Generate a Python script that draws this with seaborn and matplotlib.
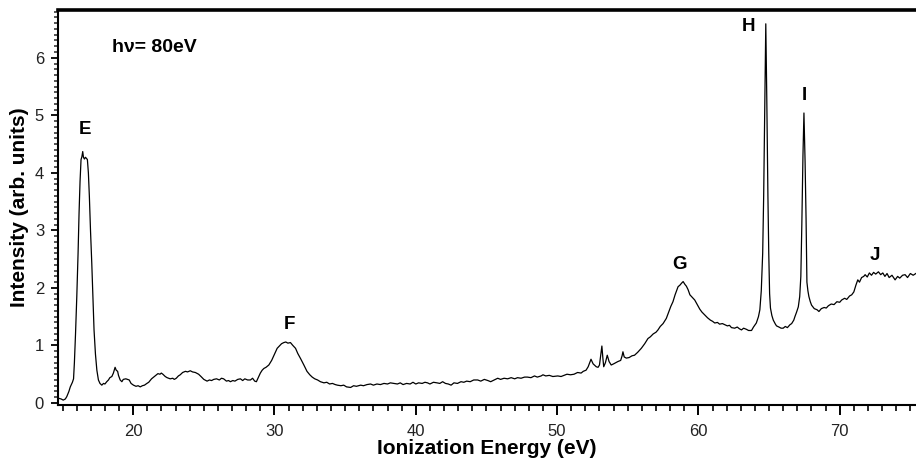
import numpy as np
import pandas as pd
import matplotlib
matplotlib.use("Agg")
import matplotlib.pyplot as plt
from matplotlib.ticker import MultipleLocator
import seaborn as sns

# ---- data ----
energy = [
    14.75, 14.9, 15.05, 15.2, 15.3, 15.45, 15.55, 15.7, 15.78, 15.84, 15.92, 16.01, 16.1, 16.17, 16.24,
    16.31, 16.37, 16.43, 16.48, 16.55, 16.62, 16.7, 16.76, 16.83, 16.9, 16.98, 17.07, 17.15, 17.23,
    17.33, 17.43, 17.54, 17.65, 17.78, 17.9, 18.0, 18.13, 18.25, 18.35, 18.49, 18.6, 18.72, 18.8,
    18.9, 18.96, 19.08, 19.2, 19.3, 19.48, 19.6, 19.72, 19.85, 20.02, 20.2, 20.35, 20.5, 20.65, 20.8,
    20.97, 21.1, 21.3, 21.45, 21.56, 21.75, 21.9, 21.99, 22.1, 22.27, 22.4, 22.62, 22.8, 22.91, 23.05,
    23.2, 23.33, 23.5, 23.7, 23.85, 24.04, 24.2, 24.4, 24.63, 24.8, 25.0, 25.23, 25.4, 25.55, 25.7,
    25.9, 26.1, 26.25, 26.4, 26.6, 26.75, 26.88, 27.05, 27.2, 27.4, 27.59, 27.75, 27.9, 28.1, 28.3,
    28.45, 28.6, 28.72, 28.85, 29.0, 29.13, 29.25, 29.4, 29.6, 29.8, 30.0, 30.19, 30.35, 30.5, 30.66,
    30.8, 30.95, 31.13, 31.3, 31.49, 31.65, 31.85, 32.08, 32.3, 32.5, 32.67, 32.85, 33.05, 33.25,
    33.5, 33.7, 33.9, 34.1, 34.3, 34.45, 34.7, 34.9, 35.1, 35.39, 35.6, 35.8, 36.1, 36.3, 36.55,
    36.8, 37.0, 37.25, 37.5, 37.75, 38.0, 38.2, 38.44, 38.7, 38.9, 39.1, 39.35, 39.6, 39.8, 40.0,
    40.2, 40.45, 40.65, 40.83, 41.0, 41.25, 41.5, 41.7, 41.9, 42.1, 42.3, 42.5, 42.7, 42.95, 43.2,
    43.4, 43.6, 43.85, 44.1, 44.38, 44.6, 44.85, 45.1, 45.3, 45.55, 45.8, 46.0, 46.25, 46.5, 46.75,
    47.0, 47.2, 47.45, 47.7, 47.9, 48.15, 48.4, 48.6, 48.87, 49.0, 49.2, 49.45, 49.7, 50.05, 50.28,
    50.5, 50.7, 50.95, 51.2, 51.45, 51.7, 51.85, 52.05, 52.2, 52.4, 52.55, 52.77, 52.9, 53.0, 53.1,
    53.17, 53.24, 53.3, 53.42, 53.55, 53.68, 53.83, 54.0, 54.15, 54.3, 54.5, 54.6, 54.66, 54.75,
    54.9, 55.1, 55.3, 55.48, 55.7, 55.96, 56.2, 56.43, 56.6, 56.8, 57.0, 57.14, 57.3, 57.5, 57.73,
    57.9, 58.05, 58.2, 58.35, 58.56, 58.7, 58.8, 58.92, 59.05, 59.15, 59.27, 59.4, 59.55, 59.74,
    59.9, 60.1, 60.25, 60.45, 60.65, 60.85, 61.0, 61.16, 61.35, 61.5, 61.7, 61.87, 62.05, 62.2,
    62.34, 62.57, 62.75, 62.9, 63.05, 63.2, 63.4, 63.55, 63.76, 63.9, 64.1, 64.25, 64.35, 64.45,
    64.55, 64.62, 64.7, 64.77, 64.84, 64.92, 64.98, 65.04, 65.1, 65.2, 65.3, 65.45, 65.53, 65.7,
    65.85, 66.0, 66.15, 66.3, 66.48, 66.6, 66.75, 66.83, 66.95, 67.07, 67.17, 67.25, 67.32, 67.4,
    67.47, 67.55, 67.62, 67.68, 67.75, 67.82, 67.92, 68.01, 68.2, 68.4, 68.53, 68.7, 68.9, 69.05,
    69.2, 69.4, 69.6, 69.8, 70.0, 70.14, 70.35, 70.5, 70.7, 70.85, 71.0, 71.15, 71.28, 71.4, 71.55,
    71.7, 71.8, 71.95, 72.1, 72.25, 72.4, 72.55, 72.74, 72.9, 73.05, 73.2, 73.35, 73.5, 73.7, 73.92,
    74.1, 74.25, 74.45, 74.63, 74.8, 75.0, 75.2, 75.45,
]
intensity = [
    0.08, 0.07, 0.05, 0.07, 0.11, 0.20, 0.28, 0.36, 0.42, 0.70, 1.20, 1.85, 2.60, 3.30, 3.85,
    4.23, 4.28, 4.37, 4.27, 4.24, 4.27, 4.25, 4.23, 4.00, 3.59, 3.00, 2.43, 1.85, 1.27,
    0.85, 0.57, 0.40, 0.34, 0.31, 0.34, 0.33, 0.37, 0.40, 0.44, 0.46, 0.52, 0.62, 0.57,
    0.55, 0.48, 0.40, 0.37, 0.41, 0.42, 0.41, 0.40, 0.34, 0.31, 0.29, 0.30, 0.28, 0.30, 0.31,
    0.34, 0.36, 0.42, 0.45, 0.47, 0.51, 0.50, 0.52, 0.50, 0.46, 0.44, 0.42, 0.43, 0.41, 0.43,
    0.47, 0.49, 0.53, 0.55, 0.54, 0.56, 0.54, 0.53, 0.50, 0.46, 0.41, 0.38, 0.40, 0.39, 0.41,
    0.42, 0.40, 0.43, 0.42, 0.38, 0.39, 0.37, 0.39, 0.38, 0.41, 0.42, 0.39, 0.42, 0.40, 0.40,
    0.43, 0.38, 0.37, 0.44, 0.52, 0.57, 0.60, 0.62, 0.66, 0.74, 0.85, 0.95, 0.99, 1.03, 1.05,
    1.06, 1.04, 1.05, 1.00, 0.95, 0.86, 0.77, 0.66, 0.55, 0.49, 0.45, 0.42, 0.40, 0.37,
    0.35, 0.36, 0.33, 0.34, 0.32, 0.31, 0.30, 0.31, 0.28, 0.27, 0.30, 0.29, 0.31, 0.30, 0.32,
    0.33, 0.31, 0.33, 0.32, 0.34, 0.33, 0.35, 0.34, 0.33, 0.35, 0.32, 0.34, 0.33, 0.36, 0.33,
    0.35, 0.34, 0.36, 0.35, 0.33, 0.36, 0.35, 0.34, 0.37, 0.34, 0.33, 0.31, 0.35, 0.34, 0.37,
    0.36, 0.38, 0.37, 0.40, 0.40, 0.38, 0.41, 0.39, 0.37, 0.40, 0.43, 0.41, 0.43, 0.42, 0.44,
    0.42, 0.44, 0.43, 0.45, 0.45, 0.44, 0.47, 0.45, 0.47, 0.49, 0.47, 0.48, 0.46, 0.47, 0.46,
    0.48, 0.50, 0.49, 0.50, 0.53, 0.52, 0.55, 0.57, 0.63, 0.76, 0.68, 0.63, 0.62, 0.66, 0.85,
    0.99, 0.78, 0.63, 0.70, 0.83, 0.72, 0.66, 0.68, 0.70, 0.72, 0.74, 0.82, 0.89, 0.80,
    0.78, 0.79, 0.82, 0.83, 0.88, 0.95, 1.03, 1.12, 1.15, 1.20, 1.23, 1.27, 1.33, 1.38, 1.47,
    1.58, 1.68, 1.76, 1.88, 2.02, 2.05, 2.08, 2.11, 2.06, 2.03, 1.97, 1.88, 1.84, 1.79,
    1.72, 1.63, 1.58, 1.53, 1.48, 1.44, 1.42, 1.39, 1.40, 1.37, 1.38, 1.36, 1.34, 1.35,
    1.31, 1.30, 1.32, 1.29, 1.27, 1.30, 1.28, 1.26, 1.26, 1.32, 1.39, 1.50, 1.62, 1.95,
    2.60, 3.60, 5.20, 6.59, 5.30, 3.60, 2.60, 1.90, 1.65, 1.52, 1.44, 1.37, 1.34, 1.32,
    1.30, 1.30, 1.33, 1.31, 1.36, 1.38, 1.44, 1.50, 1.58, 1.67, 1.85, 2.20, 3.10, 4.30,
    5.04, 4.20, 3.20, 2.10, 1.95, 1.85, 1.76, 1.70, 1.64, 1.62, 1.59, 1.64, 1.66, 1.65,
    1.69, 1.72, 1.71, 1.76, 1.75, 1.79, 1.82, 1.80, 1.86, 1.88, 1.93, 2.05, 2.14, 2.10, 2.18,
    2.20, 2.23, 2.19, 2.26, 2.22, 2.27, 2.24, 2.28, 2.23, 2.26, 2.20, 2.25, 2.18, 2.22, 2.14,
    2.20, 2.17, 2.22, 2.23, 2.18, 2.25, 2.22, 2.26,
]
peak_labels = ["E", "F", "G", "H", "I", "J"]
peak_label_x = [16.6, 31.05, 58.65, 63.55, 67.5, 72.5]
peak_label_y = [4.75, 1.37, 2.40, 6.54, 5.34, 2.57]
x_major_ticks = [20, 30, 40, 50, 60, 70]
y_major_ticks = [0, 1, 2, 3, 4, 5, 6]
photon_label = "h\u03bd= 80eV"

df = pd.DataFrame({"energy": energy, "intensity": intensity})

sns.set_style("ticks")
plt.rcParams["font.family"] = ["Liberation Sans", "DejaVu Sans"]
plt.rcParams["text.color"] = "black"
plt.rcParams["axes.labelcolor"] = "black"

fig = plt.figure(figsize=(9.16, 4.59), dpi=100)
ax = fig.add_axes([58 / 916, 1 - 405 / 459, 1 - 58 / 916, (405 - 10) / 459])

sns.lineplot(data=df, x="energy", y="intensity", ax=ax, color="black",
             linewidth=0.9, sort=False, estimator=None)

ax.set_xlim(14.68, 75.4)
ax.set_ylim(-0.035, 6.83)

ax.set_xticks(x_major_ticks)
ax.set_yticks(y_major_ticks)
ax.xaxis.set_minor_locator(MultipleLocator(1))
ax.yaxis.set_minor_locator(MultipleLocator(0.1))

ax.tick_params(axis="x", which="major", direction="out", length=7, width=1.4,
               labelsize=12, pad=7, colors="black", labelcolor="#222222")
ax.tick_params(axis="x", which="minor", direction="out", length=4.5, width=1.4)
ax.tick_params(axis="y", which="major", direction="out", length=5, width=1.3,
               labelsize=12, pad=5, colors="black", labelcolor="#222222")
ax.tick_params(axis="y", which="minor", direction="out", length=3, width=1.1)

for s in ["left", "bottom"]:
    ax.spines[s].set_linewidth(1.5)
    ax.spines[s].set_color("black")
ax.spines["top"].set_visible(True)
ax.spines["top"].set_linewidth(2.6)
ax.spines["top"].set_color("black")
ax.spines["right"].set_visible(False)

ax.set_xlabel("Ionization Energy (eV)", fontsize=15, fontweight="bold", labelpad=0)
ax.set_ylabel("Intensity (arb. units)", fontsize=15, fontweight="bold", labelpad=4)

for lab, lx, ly in zip(peak_labels, peak_label_x, peak_label_y):
    ax.text(lx, ly, lab, fontsize=13.5, fontweight="bold", ha="center", va="center",
            color="black")

ax.text(18.5, 6.17, photon_label, fontsize=14, fontweight="bold", ha="left", va="center",
        color="black")

fig.savefig("out.png", dpi=100)
